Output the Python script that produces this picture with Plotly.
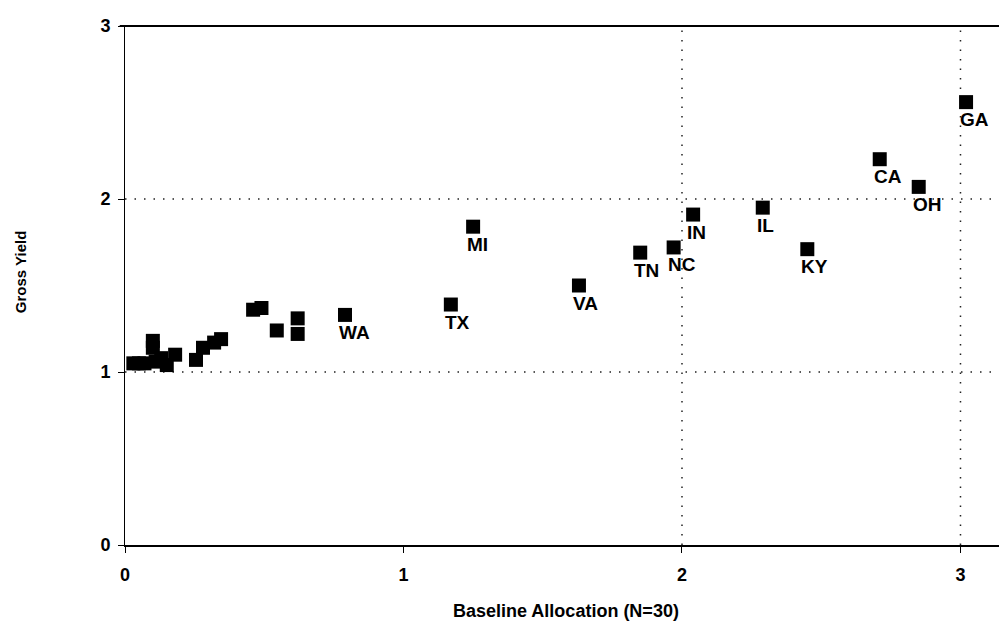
import plotly.graph_objects as go

# Baseline allocation (x) and gross yield (y) for 30 states
x_vals = [0.03, 0.05, 0.07, 0.11, 0.13, 0.15, 0.18, 0.10, 0.10, 0.255, 0.28, 0.32, 0.345,
          0.46, 0.49, 0.545, 0.62, 0.62,
          0.79, 1.17, 1.25, 1.63, 1.85, 1.97, 2.04, 2.29, 2.45, 2.71, 2.85, 3.02]
y_vals = [1.05, 1.05, 1.05, 1.06, 1.08, 1.04, 1.10, 1.18, 1.14, 1.07, 1.14, 1.17, 1.19,
          1.36, 1.37, 1.24, 1.31, 1.22,
          1.33, 1.39, 1.84, 1.50, 1.69, 1.72, 1.91, 1.95, 1.71, 2.23, 2.07, 2.56]
labels = [""] * 18 + ["WA", "TX", "MI", "VA", "TN", "NC", "IN", "IL", "KY", "CA", "OH", "GA"]

x_ticks = [0, 1, 2, 3]
y_ticks = [0, 1, 2, 3]
x_grid = [2, 3]
y_grid = [1, 2]

FONT = "Liberation Sans, Arial, sans-serif"

fig = go.Figure()
fig.add_trace(go.Scatter(
    x=x_vals, y=y_vals, mode="markers",
    marker=dict(symbol="square", size=14, color="black", line=dict(width=0)),
    cliponaxis=False, hoverinfo="skip", showlegend=False,
))

annotations = []
for xv, yv, lab in zip(x_vals, y_vals, labels):
    if lab:
        annotations.append(dict(
            x=xv, y=yv, xref="x", yref="y", text="<b>" + lab + "</b>",
            showarrow=False, xanchor="left", yanchor="top",
            xshift=-8, yshift=-5,
            font=dict(family=FONT, size=19, color="black"),
        ))

annotations.append(dict(
    x=0.5, y=-0.127, xref="paper", yref="paper", yanchor="middle", xanchor="center",
    text="<b>Baseline Allocation (N=30)</b>", showarrow=False,
    font=dict(family=FONT, size=18, color="black"),
))
annotations.append(dict(
    x=(20 - 125) / 882, y=(545 - 268) / 527, xref="paper", yref="paper",
    xanchor="center", yanchor="middle", textangle=-90,
    text="<b>Gross Yield</b>", showarrow=False,
    font=dict(family=FONT, size=15, color="black"),
))

shapes = []
for g in x_grid:
    shapes.append(dict(type="line", xref="x", yref="paper", x0=g, x1=g, y0=0, y1=1,
                       line=dict(color="#222", width=1.5, dash="1.5px,8px"), layer="below"))
for g in y_grid:
    shapes.append(dict(type="line", xref="paper", yref="y", x0=0, x1=1, y0=g, y1=g,
                       line=dict(color="#222", width=1.5, dash="1.5px,8px"), layer="below"))
# top border
shapes.append(dict(type="line", xref="paper", yref="paper", x0=-0.006, x1=1, y0=1, y1=1,
                   line=dict(color="black", width=2)))

fig.update_layout(
    width=1007, height=628,
    margin=dict(l=117, r=8, t=10, b=91),
    paper_bgcolor="white", plot_bgcolor="white",
    font=dict(family=FONT, color="black"),
    annotations=annotations, shapes=shapes,
    xaxis=dict(
        range=[0, 3.167], tickvals=x_ticks, ticktext=["<b>%d</b>" % t for t in x_ticks],
        showgrid=False, zeroline=False, showline=True, linecolor="black", linewidth=2,
        ticks="outside", ticklen=6, tickcolor="black", tickwidth=1,
        ticklabelstandoff=6,
        tickfont=dict(family=FONT, size=18, color="black"),
    ),
    yaxis=dict(
        range=[0, 3], tickvals=y_ticks, ticktext=["<b>%d</b>" % t for t in y_ticks],
        showgrid=False, zeroline=False, showline=True, linecolor="black", linewidth=1,
        ticks="outside", ticklen=6, tickcolor="black", tickwidth=1,
        ticklabelstandoff=4,
        tickfont=dict(family=FONT, size=18, color="black"),
    ),
)

fig.write_html("out.html")
